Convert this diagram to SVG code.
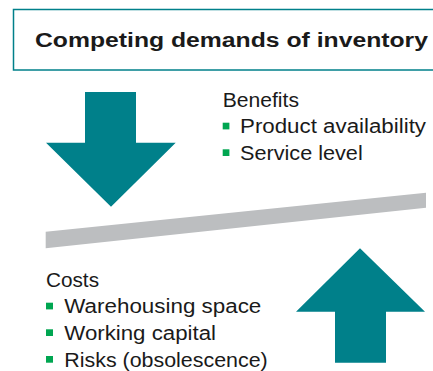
<svg xmlns="http://www.w3.org/2000/svg" width="433" height="371" viewBox="0 0 433 371">
<style>
.t{font-family:"Liberation Sans",Arial,sans-serif;fill:#1a1a1a;font-size:20px}
.b{fill:#00A651}
.arr{fill:#00808A}
</style>
<rect width="433" height="371" fill="#fff"/>
<g id="title">
<rect x="13.5" y="9.5" width="430" height="60.5" fill="#fff" stroke="#00808A" stroke-width="1.5"/>
<text class="t" x="35" y="47" font-size="20.5" font-weight="bold" textLength="393" lengthAdjust="spacingAndGlyphs">Competing demands of inventory</text>
</g>
<g id="down-arrow">
<polygon class="arr" points="85,92 136,92 136,142.7 175.7,142.7 111,206.7 46,142.7 85,142.7"/>
</g>
<g id="benefits">
<text class="t" x="222.7" y="106.7" textLength="76.3" lengthAdjust="spacingAndGlyphs">Benefits</text>
<rect class="b" x="222.7" y="122.7" width="6.7" height="6.7"/>
<text class="t" x="240" y="133.3" textLength="186" lengthAdjust="spacingAndGlyphs">Product availability</text>
<rect class="b" x="222.7" y="149.3" width="6.7" height="6.7"/>
<text class="t" x="240" y="160" textLength="122.7" lengthAdjust="spacingAndGlyphs">Service level</text>
</g>
<g id="lever">
<polygon fill="#BCBEC0" points="45.7,231.7 426,192.7 426,207.7 45.7,248.3"/>
</g>
<g id="up-arrow">
<polygon class="arr" points="360,248.3 425,311.7 386,311.7 386,362.7 335,362.7 335,311.7 296,311.7"/>
</g>
<g id="costs">
<text class="t" x="46" y="286.7" textLength="53" lengthAdjust="spacingAndGlyphs">Costs</text>
<rect class="b" x="46" y="302.7" width="7" height="6.7"/>
<text class="t" x="64.3" y="313.3" textLength="197" lengthAdjust="spacingAndGlyphs">Warehousing space</text>
<rect class="b" x="46" y="329.3" width="7" height="6.7"/>
<text class="t" x="64.3" y="340" textLength="151.7" lengthAdjust="spacingAndGlyphs">Working capital</text>
<rect class="b" x="46" y="356" width="7" height="6.7"/>
<text class="t" x="64.3" y="366.5" textLength="203.4" lengthAdjust="spacingAndGlyphs">Risks (obsolescence)</text>
</g>
</svg>
